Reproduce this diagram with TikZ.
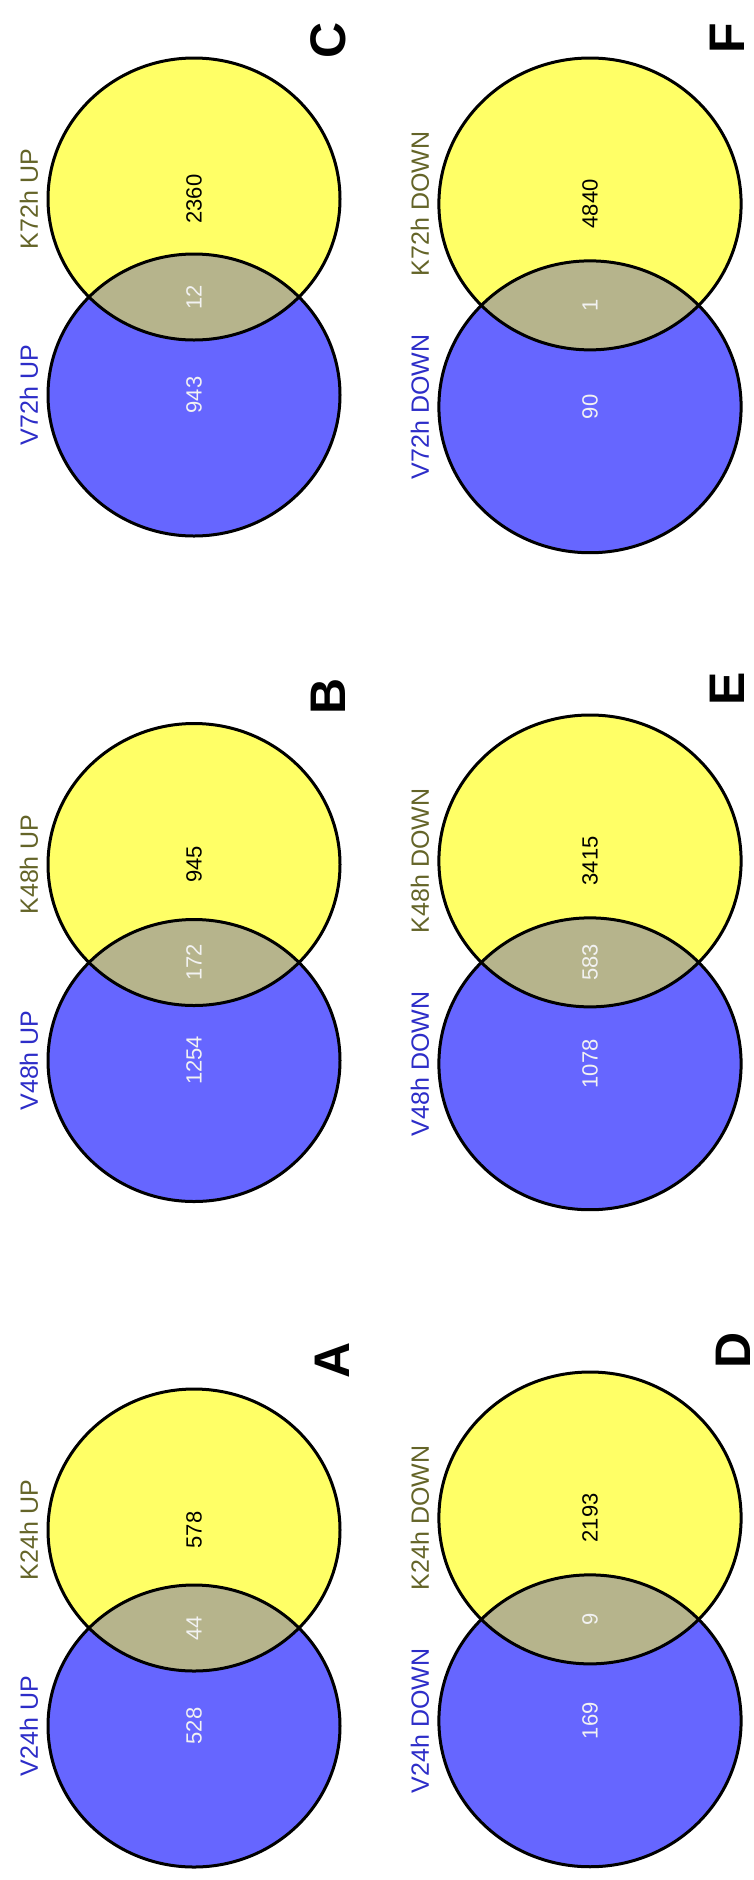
\documentclass[tikz,border=0pt]{standalone}
\usepackage{fontspec}
\setmainfont{Liberation Sans}
\definecolor{setblue}{RGB}{102,102,255}
\definecolor{setyellow}{RGB}{255,255,102}
\definecolor{setboth}{RGB}{182,180,140}
\definecolor{vtext}{RGB}{45,45,200}
\definecolor{ktext}{RGB}{100,100,40}
\definecolor{numlight}{RGB}{242,242,242}

% one two-set Venn panel
% #1 name, #2 centre x, #3 top y, #4 scale, #5 V label, #6 K label,
% #7 V-only count, #8 shared count, #9 K-only count
\newcommand{\vennpanel}[9]{%
  \pgfmathsetmacro\rxv{146*#4}%
  \pgfmathsetmacro\ryv{141*#4}%
  \pgfmathsetmacro\dyv{196*#4}%
  \pgfmathsetmacro\yk{#3+\ryv}%
  \pgfmathsetmacro\yv{#3+\ryv+\dyv}%
  \pgfmathsetmacro\ylens{#3+(\dyv+2*\ryv)/2}%
  \pgfmathsetmacro\xlab{#2-\rxv-19}%
  \coordinate (#1-k) at (#2,\yk);
  \coordinate (#1-v) at (#2,\yv);
  \coordinate (#1-both) at (#2,\ylens);
  \fill[setblue] (#1-v) ellipse [x radius=\rxv pt, y radius=\ryv pt];
  \fill[setyellow] (#1-k) ellipse [x radius=\rxv pt, y radius=\ryv pt];
  \begin{scope}
    \clip (#1-v) ellipse [x radius=\rxv pt, y radius=\ryv pt];
    \fill[setboth] (#1-k) ellipse [x radius=\rxv pt, y radius=\ryv pt];
  \end{scope}
  \draw[rim] (#1-v) ellipse [x radius=\rxv pt, y radius=\ryv pt];
  \draw[rim] (#1-k) ellipse [x radius=\rxv pt, y radius=\ryv pt];
  \node[count, text=numlight] (#1-nv) at (#1-v) {#7};
  \node[count, text=numlight] (#1-nb) at (#1-both) {#8};
  \node[count, text=black] (#1-nk) at (#1-k) {#9};
  \node[setname, text=vtext] (#1-lv) at (\xlab,\yv) {#5};
  \node[setname, text=ktext] (#1-lk) at (\xlab,\yk) {#6};
}

\begin{document}
\begin{tikzpicture}[x=1pt,y=-1pt,
  rim/.style={draw=black, line width=3pt},
  count/.style={rotate=90, inner sep=0pt, font=\fontsize{22}{26}\selectfont},
  setname/.style={rotate=90, inner sep=0pt, font=\fontsize{25}{29}\selectfont},
  panel/.style={rotate=90, inner sep=0pt, font=\fontsize{50}{56}\selectfont\bfseries}]
\useasboundingbox[fill=white] (0,0) rectangle (754,1880);
\clip (0,0) rectangle (754,1880);

% up-regulated genes
\vennpanel{pc}{194}{58}{1}{V72h UP}{K72h UP}{943}{12}{2360}
\vennpanel{pb}{194}{723.5}{1}{V48h UP}{K48h UP}{1254}{172}{945}
\vennpanel{pa}{194}{1389}{1}{V24h UP}{K24h UP}{528}{44}{578}

% down-regulated genes
\vennpanel{pf}{590}{58}{1.035}{V72h DOWN}{K72h DOWN}{90}{1}{4840}
\vennpanel{pe}{590}{715}{1.035}{V48h DOWN}{K48h DOWN}{1078}{583}{3415}
\vennpanel{pd}{590}{1372}{1.035}{V24h DOWN}{K24h DOWN}{169}{9}{2193}

% panel letters
\node[panel] (lc) at (328,40) {C};
\node[panel] (lb) at (328,696) {B};
\node[panel] (la) at (332,1360) {A};
\node[panel] (lf) at (727,38) {F};
\node[panel] (le) at (727,689) {E};
\node[panel] (ld) at (733,1350) {D};
\end{tikzpicture}
\end{document}
